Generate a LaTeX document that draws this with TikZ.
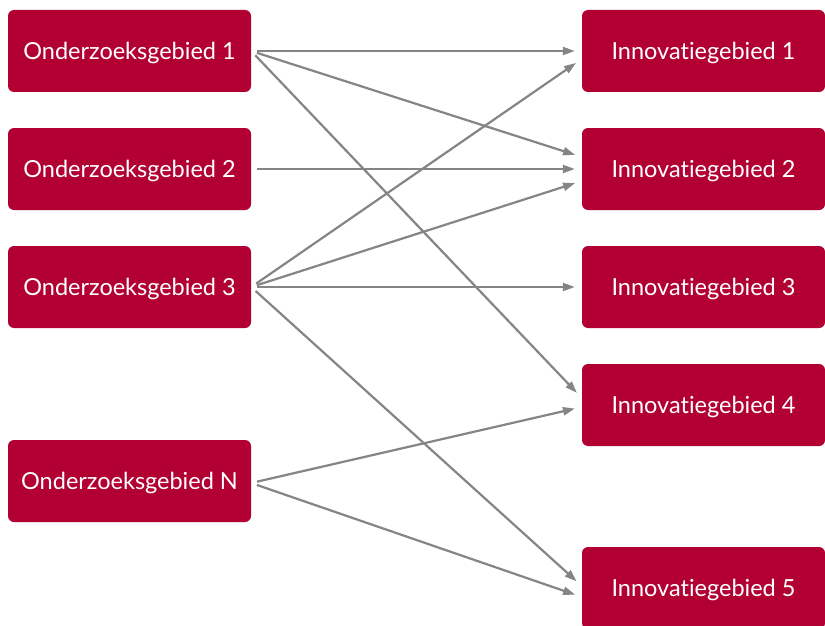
\documentclass[tikz,border=0pt]{standalone}
\usepackage{fontspec}
\setmainfont[Ligatures=NoCommon]{Lato}
\usetikzlibrary{arrows.meta}
\definecolor{boxred}{HTML}{B20033}
\definecolor{arrowgrey}{HTML}{858585}
\begin{document}
\begin{tikzpicture}[x=1pt,y=-1pt,
  box/.style={fill=boxred,draw=none,rounded corners=6pt,minimum width=243pt,minimum height=82pt,inner sep=0pt,text=white,font=\fontsize{23.5}{28}\selectfont,text height=17pt,text depth=0pt},
  link/.style={draw=arrowgrey,line width=2.2pt,-{Triangle[length=12pt,width=8pt]},shorten <=6pt,shorten >=7pt}]
\clip (0,0) rectangle (825,626);
\fill[white] (0,0) rectangle (825,626);
\node[box] (L1) at (129.5,51) {Onderzoeksgebied 1};
\node[box] (L2) at (129.5,169) {Onderzoeksgebied 2};
\node[box] (L3) at (129.5,287) {Onderzoeksgebied 3};
\node[box] (LN) at (129.5,481) {Onderzoeksgebied N};
\node[box] (R1) at (703.5,51) {Innovatiegebied 1};
\node[box] (R2) at (703.5,169) {Innovatiegebied 2};
\node[box] (R3) at (703.5,287) {Innovatiegebied 3};
\node[box] (R4) at (703.5,405) {Innovatiegebied 4};
\node[box] (R5) at (703.5,588) {Innovatiegebied 5};
\draw[link] (L1.east) -- (R1.west);
\draw[link] (L1.east) -- ([yshift=12pt]R2.west);
\draw[link] (L1.east) -- ([yshift=7pt]R4.west);
\draw[link] (L2.east) -- (R2.west);
\draw[link] (L3.east) -- ([yshift=-8pt]R1.west);
\draw[link] (L3.east) -- ([yshift=-12pt]R2.west);
\draw[link] (L3.east) -- (R3.west);
\draw[link] (L3.east) -- ([yshift=2pt]R5.west);
\draw[link] ([yshift=-2pt]LN.east) -- ([yshift=-2pt]R4.west);
\draw[link] ([yshift=-2pt]LN.east) -- ([yshift=-9pt]R5.west);
\end{tikzpicture}
\end{document}
